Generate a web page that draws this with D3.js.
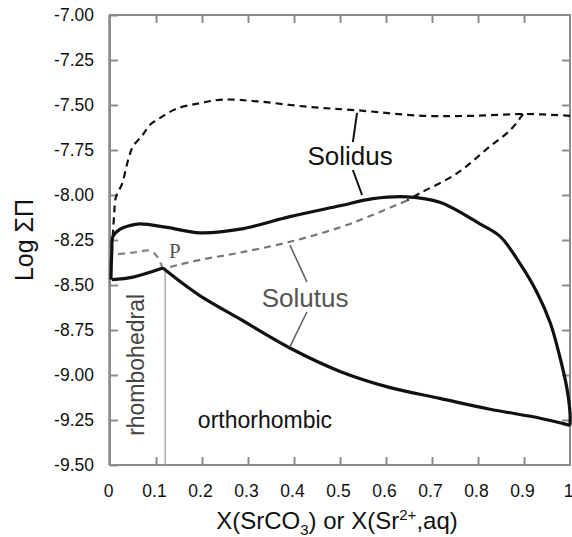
<!DOCTYPE html>
<html>
<head>
<meta charset="utf-8">
<script src="https://cdn.jsdelivr.net/npm/d3@7/dist/d3.min.js"></script>
<style>
  body { margin: 0; background: #fff; }
  svg { display: block; font-family: "Liberation Sans", Arial, sans-serif; }
</style>
</head>
<body>
<script>
// tick values
var xTicks = [0, 0.1, 0.2, 0.3, 0.4, 0.5, 0.6, 0.7, 0.8, 0.9, 1];
var yTicks = [-7.00, -7.25, -7.50, -7.75, -8.00, -8.25, -8.50, -8.75, -9.00, -9.25, -9.50];

// upper dashed curve (black)
var dashTopX = [0.006, 0.009, 0.013, 0.026, 0.039, 0.05, 0.07, 0.087, 0.11, 0.145, 0.195, 0.245, 0.32, 0.43, 0.54, 0.68, 0.79, 0.9, 1.0];
var dashTopY = [-8.23, -8.11, -8.01, -7.94, -7.81, -7.73, -7.67, -7.61, -7.57, -7.52, -7.49, -7.47, -7.48, -7.51, -7.53, -7.56, -7.56, -7.55, -7.56];
// dashed branch going down from 0.9 (black)
var dashBranchX = [0.898, 0.87, 0.826, 0.754, 0.674, 0.646];
var dashBranchY = [-7.55, -7.64, -7.73, -7.88, -7.99, -8.03];
// solutus dashed (grey) from branch down to P and on to the left edge
var soluDashX = [0.646, 0.572, 0.5, 0.391, 0.283, 0.196, 0.146, 0.115];
var soluDashY = [-8.03, -8.11, -8.18, -8.26, -8.32, -8.36, -8.39, -8.41];
var soluLeftX = [0.115, 0.102, 0.087, 0.05, 0.011];
var soluLeftY = [-8.41, -8.34, -8.31, -8.32, -8.33];

// solidus (upper solid) and lower solid curve
var solidUpX = [0.002, 0.004, 0.0065, 0.022, 0.043, 0.065, 0.124, 0.196, 0.283, 0.391, 0.5, 0.572, 0.646, 0.717, 0.804, 0.848, 0.891, 0.928, 0.957, 0.978, 0.993, 1.0, 1.0];
var solidUpY = [-8.47, -8.31, -8.23, -8.19, -8.17, -8.16, -8.18, -8.21, -8.19, -8.12, -8.06, -8.02, -8.01, -8.04, -8.16, -8.23, -8.38, -8.54, -8.71, -8.90, -9.07, -9.21, -9.28];
var solidLowLeftX = [0.004, 0.05, 0.115];
var solidLowLeftY = [-8.47, -8.456, -8.406];
var solidLowX = [0.115, 0.152, 0.196, 0.283, 0.391, 0.5, 0.609, 0.717, 0.826, 0.935, 0.985, 1.0];
var solidLowY = [-8.406, -8.48, -8.56, -8.69, -8.85, -8.98, -9.07, -9.13, -9.19, -9.24, -9.27, -9.28];

// rhombohedral / orthorhombic boundary
var boundaryX = 0.12;
var boundaryY = [-8.41, -9.5];

var W = 572, H = 537;
var x = d3.scaleLinear().domain([0, 1]).range([110, 570]);
var y = d3.scaleLinear().domain([-7, -9.5]).range([15, 465]);

var svg = d3.select("body").append("svg")
  .attr("width", W)
  .attr("height", H);

svg.append("rect").attr("width", W).attr("height", H).attr("fill", "#fff");

var frameCol = "#8c8c8c";

// axes with inward ticks
function styleAxis(g) {
  g.select(".domain").remove();
  g.selectAll(".tick line").attr("stroke", frameCol).attr("stroke-width", 2);
  g.selectAll(".tick text").attr("fill", "#111").style("font-size", "17.5px")
    .style("font-family", "'Liberation Sans', Arial, sans-serif");
}

svg.append("g").attr("transform", "translate(110,0)")
  .call(d3.axisLeft(y).tickValues(yTicks).tickSize(-8).tickPadding(16)
    .tickFormat(function (d) { return d.toFixed(2); }))
  .call(styleAxis);

svg.append("g").attr("transform", "translate(570,0)")
  .call(d3.axisRight(y).tickValues(yTicks.slice(1, -1)).tickSize(-8).tickFormat(""))
  .call(styleAxis);

svg.append("g").attr("transform", "translate(0,465)")
  .call(d3.axisBottom(x).tickValues(xTicks).tickSize(-8).tickPadding(20)
    .tickFormat(function (d) { return String(+d.toFixed(1)); }))
  .call(styleAxis)
  .call(function (g) {
    g.selectAll(".tick text").attr("x", -2);
    g.selectAll(".tick line").filter(function (d) { return d === 0 || d === 1; }).remove();
  });

svg.append("g").attr("transform", "translate(0,15)")
  .call(d3.axisTop(x).tickValues(xTicks.slice(1, -1)).tickSize(-8).tickFormat(""))
  .call(styleAxis);

// frame
svg.append("rect")
  .attr("x", x(0)).attr("y", y(-7))
  .attr("width", x(1) - x(0)).attr("height", y(-9.5) - y(-7))
  .attr("fill", "none").attr("stroke", frameCol).attr("stroke-width", 2);
svg.append("line")
  .attr("x1", x(0) - 1).attr("x2", x(0) - 1).attr("y1", y(-7)).attr("y2", y(-9.5))
  .attr("stroke", frameCol).attr("stroke-width", 1.5);

// boundary line
svg.append("line")
  .attr("x1", x(boundaryX)).attr("x2", x(boundaryX))
  .attr("y1", y(boundaryY[0])).attr("y2", y(boundaryY[1]))
  .attr("stroke", "#9a9a9a").attr("stroke-width", 1.2);

var line = d3.line()
  .x(function (d) { return x(d[0]); })
  .y(function (d) { return y(d[1]); })
  .curve(d3.curveCatmullRom.alpha(0.5));

function pts(xs, ys) { return xs.map(function (v, i) { return [v, ys[i]]; }); }

function draw(xs, ys, col, w, dash) {
  svg.append("path")
    .attr("d", line(pts(xs, ys)))
    .attr("fill", "none")
    .attr("stroke", col)
    .attr("stroke-width", w)
    .attr("stroke-dasharray", dash || null)
    .attr("stroke-linejoin", "round");
}

draw(soluDashX, soluDashY, "#777", 2.2, "7,5");
draw(soluLeftX, soluLeftY, "#888", 2.2, "7,5");
draw(dashTopX, dashTopY, "#111", 2.2, "7,5");
draw(dashBranchX, dashBranchY, "#111", 2.2, "7,5");
draw(solidUpX, solidUpY, "#111", 3.2);
draw(solidLowLeftX, solidLowLeftY, "#111", 3.2);
draw(solidLowX, solidLowY, "#111", 3.2);

// leader lines for the labels
var leaders = [
  { x: [0.537, 0.528], y: [-7.544, -7.706], c: "#111", w: 2 },
  { x: [0.528, 0.548], y: [-7.861, -8.0], c: "#111", w: 2 },
  { x: [0.391, 0.428], y: [-8.278, -8.483], c: "#666", w: 1.6 },
  { x: [0.428, 0.391], y: [-8.65, -8.844], c: "#666", w: 1.6 }
];
leaders.forEach(function (l) {
  svg.append("line")
    .attr("x1", x(l.x[0])).attr("y1", y(l.y[0]))
    .attr("x2", x(l.x[1])).attr("y2", y(l.y[1]))
    .attr("stroke", l.c).attr("stroke-width", l.w);
});

// labels
svg.append("text").attr("x", x(0.522)).attr("y", y(-7.833))
  .attr("text-anchor", "middle").style("font-size", "26px").attr("fill", "#111")
  .text("Solidus");
svg.append("text").attr("x", x(0.424)).attr("y", y(-8.622))
  .attr("text-anchor", "middle").style("font-size", "26px").attr("fill", "#555")
  .text("Solutus");
svg.append("text").attr("x", x(0.141)).attr("y", y(-8.35))
  .attr("text-anchor", "middle").style("font-size", "21px").attr("fill", "#555")
  .style("font-family", "'Liberation Serif', 'Times New Roman', serif")
  .text("P");
svg.append("text").attr("x", x(0.191)).attr("y", y(-9.294))
  .style("font-size", "23px").attr("fill", "#111")
  .text("orthorhombic");
svg.append("text")
  .attr("transform", "translate(" + (x(0.057) + 8) + "," + y(-8.944) + ") rotate(-90)")
  .attr("text-anchor", "middle").style("font-size", "23px").attr("fill", "#444")
  .text("rhombohedral");

// axis titles
var xt = svg.append("text").attr("x", 337).attr("y", 529)
  .attr("text-anchor", "middle").style("font-size", "24px").attr("fill", "#111");
xt.append("tspan").text("X(SrCO");
xt.append("tspan").text("3").attr("dy", 6).style("font-size", "15px");
xt.append("tspan").text(") or X(Sr").attr("dy", -6);
xt.append("tspan").text("2+").attr("dy", -9).style("font-size", "15px");
xt.append("tspan").text(",aq)").attr("dy", 9);

svg.append("text")
  .attr("transform", "translate(33,240) rotate(-90)")
  .attr("text-anchor", "middle").style("font-size", "25px").attr("fill", "#111")
  .text("Log ΣΠ");
</script>
</body>
</html>
